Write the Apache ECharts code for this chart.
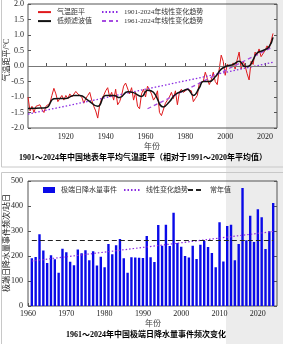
<!DOCTYPE html>
<html><head><meta charset="utf-8">
<script src="https://cdn.jsdelivr.net/npm/echarts@6/dist/echarts.min.js"></script>
<style>html,body{margin:0;padding:0;background:#fff}#c{width:283px;height:344px}</style>
</head><body><div id="c"></div>
<script>
// ---------- Chart 1: temperature anomaly ----------
const tempFirstYear = 1901;
const tempAnomaly = [
 -1.0,-1.45,-1.3,-1.5,-1.3,-1.35,-1.25,-1.4,-1.5,-1.3,
 -1.35,-1.2,-0.95,-0.72,-0.9,-1.15,-1.05,-0.95,-1.1,-0.95,
 -1.05,-0.9,-1.0,-0.95,-0.82,-0.9,-0.85,-1.0,-1.2,-1.05,
 -0.95,-0.85,-1.1,-1.3,-1.45,-1.68,-1.25,-1.05,-0.95,-0.8,
 -0.7,-1.0,-0.85,-1.1,-0.75,-1.25,-1.15,-0.95,-0.65,-0.55,
 -0.6,-0.9,-0.7,-1.1,-0.85,-1.3,-1.38,-0.9,-0.75,-1.0,
 -0.65,-0.62,-0.9,-1.1,-1.0,-0.8,-1.5,-1.6,-1.55,-1.2,
 -1.1,-1.0,-0.85,-1.05,-0.8,-1.25,-0.85,-0.75,-0.85,-0.9,
 -0.75,-0.7,-0.8,-1.15,-1.05,-0.95,-0.55,-0.6,-0.5,-0.2,
 -0.4,-0.6,-0.45,-0.2,-0.5,-0.6,-0.1,0.35,0.15,-0.3,
 0.05,0.1,-0.05,0.1,-0.1,0.2,0.45,-0.1,0.15,0.0,
 -0.25,-0.45,0.15,0.05,0.45,0.35,0.55,0.3,0.3,0.5,
 0.65,0.55,0.8,1.05];
const filterYears  = [1901,1905,1910,1914,1917,1920,1924,1927,1931,1936,1940,1944,1947,1951,1954,1958,1961,1964,1969,1972,1975,1979,1981,1984,1987,1989,1992,1995,1998,2001,2004,2007,2010,2012,2014,2016,2019,2022,2024];
const filterValues = [-1.37,-1.36,-1.35,-1.06,-1.05,-1.05,-0.95,-0.95,-1.1,-1.3,-0.95,-0.95,-1.02,-0.83,-0.86,-0.98,-0.78,-0.85,-1.32,-1.15,-0.92,-0.8,-0.75,-0.95,-0.7,-0.5,-0.5,-0.35,-0.1,0.0,0.05,0.15,-0.02,0.0,0.2,0.42,0.5,0.62,0.92];
const trendLongYears = [1901, 2024];
const trendLongValues = [-1.55, 0.12];
const trendShortYears = [1961, 2024];
const trendShortValues = [-1.38, 0.62];
const tempXLabels = [1920,1940,1960,1980,2000,2020];
const tempXTicks = [1910,1920,1930,1940,1950,1960,1970,1980,1990,2000,2010,2020];

// ---------- Chart 2: extreme precipitation events ----------
const rainFirstYear = 1961;
const rainEvents = [
 191,196,287,222,172,203,187,133,229,215,
 177,163,226,211,223,183,219,162,197,155,
 248,207,243,268,191,133,195,194,193,192,
 280,195,176,324,241,325,240,373,252,237,
 200,194,241,188,245,260,236,212,155,335,
 178,320,325,183,248,472,263,361,256,387,
 355,228,299,412];
const rainTrendYears = [1961, 2024];
const rainTrendValues = [180, 298];
const rainNormalYears = [1961, 2024];
const rainNormalValues = [262, 262];
const rainXLabels = [1960,1970,1980,1990,2000,2010,2020];

const pairs = (xs, ys) => xs.map((x, i) => [x, ys[i]]);
const tempData = tempAnomaly.map((v, i) => [tempFirstYear + i, v]);
const rainData = rainEvents.map((v, i) => [rainFirstYear + i, v]);

const SERIF = '"Liberation Serif","Noto Sans CJK SC",serif';
const lblStyle = {color:'#222', fontSize:8, fontFamily:SERIF};
const legText = {color:'#333', fontSize:7, fontFamily:SERIF, padding:[0,0,0,1]};
const hideSym = {opacity:0};
const purple1 = '#8a2be2', purple2 = '#a64ce0';

const chart = echarts.init(document.getElementById('c'), null, {renderer:'canvas'});
chart.setOption({
  animation:false,
  backgroundColor:'#fff',
  graphic:[
    {type:'rect', z:-100, shape:{x:226, y:0, width:57, height:344}, style:{fill:'#ececec'}},
    {type:'rect', z:-90, shape:{x:1.5, y:-2, width:300, height:169}, style:{fill:'none', stroke:'#c8c8c8', lineWidth:1}},
    {type:'rect', z:-90, shape:{x:1.5, y:172.5, width:300, height:180}, style:{fill:'none', stroke:'#c8c8c8', lineWidth:1}},
    {type:'text', x:7, y:60, rotation:Math.PI/2, style:{text:'气温距平/°C', fill:'#222', font:'8px '+SERIF, align:'center', verticalAlign:'middle'}},
    {type:'text', x:7, y:243, rotation:Math.PI/2, style:{text:'极端日降水量事件频次/站日', fill:'#222', font:'8px '+SERIF, align:'center', verticalAlign:'middle'}},
    {type:'text', x:152, y:147, style:{text:'年份', fill:'#444', font:'8px '+SERIF, align:'center', verticalAlign:'middle'}},
    {type:'text', x:143, y:157.5, style:{text:'1901～2024年中国地表年平均气温距平（相对于1991～2020年平均值）', fill:'#000', font:'bold 8px '+SERIF, align:'center', verticalAlign:'middle'}},
    {type:'text', x:153, y:324, style:{text:'年份', fill:'#444', font:'8px '+SERIF, align:'center', verticalAlign:'middle'}},
    {type:'text', x:146, y:335, style:{text:'1961～2024年中国极端日降水量事件频次变化', fill:'#000', font:'bold 8px '+SERIF, align:'center', verticalAlign:'middle'}}
  ],
  legend:[
    {left:37, top:8.5, padding:0, itemWidth:13, itemHeight:9, itemStyle:hideSym, data:['气温距平'], textStyle:legText},
    {left:37, top:17.5, padding:0, itemWidth:13, itemHeight:9, itemStyle:hideSym, data:['低频滤波值'], textStyle:legText},
    {left:101, top:8.5, padding:0, itemWidth:16, itemHeight:9, itemStyle:hideSym, data:['1901-2024年线性变化趋势'], textStyle:legText},
    {left:101, top:17.5, padding:0, itemWidth:16, itemHeight:9, itemStyle:hideSym, data:['1961-2024年线性变化趋势'], textStyle:legText},
    {left:43, top:186.5, padding:0, itemWidth:12, itemHeight:6, icon:'rect', data:['极端日降水量事件'], textStyle:legText},
    {left:123, top:186.5, padding:0, itemWidth:16, itemHeight:9, itemStyle:hideSym, data:['线性变化趋势'], textStyle:legText},
    {left:187, top:186.5, padding:0, itemWidth:16, itemHeight:9, itemStyle:hideSym, data:['常年值'], textStyle:legText}
  ],
  grid:[
    {left:28, top:4, width:249, height:124, show:true, borderColor:'#555', borderWidth:1, backgroundColor:'transparent'},
    {left:28, top:181, width:249, height:125, show:true, borderColor:'#555', borderWidth:1, backgroundColor:'transparent'}
  ],
  xAxis:[
    {gridIndex:0, type:'value', min:1901, max:2026,
     axisLine:{show:false}, splitLine:{show:false},
     axisTick:{show:true, inside:true, length:3, lineStyle:{color:'#555'}, customValues:tempXTicks},
     axisLabel:{...lblStyle, margin:5, customValues:tempXLabels, formatter:v=>String(v)}},
    {gridIndex:1, type:'value', min:1960, max:2025, interval:10,
     axisLine:{show:false}, splitLine:{show:false},
     axisTick:{show:true, inside:true, length:3, lineStyle:{color:'#555'}, customValues:rainXLabels},
     axisLabel:{...lblStyle, margin:4, customValues:rainXLabels, formatter:v=>String(v)}}
  ],
  yAxis:[
    {gridIndex:0, type:'value', min:-2, max:2, interval:0.5,
     axisLine:{show:false}, splitLine:{show:false},
     axisTick:{show:true, inside:true, length:3, lineStyle:{color:'#555'}},
     axisLabel:{...lblStyle, margin:4, formatter:v=>v.toFixed(1)}},
    {gridIndex:0, type:'value', position:'right', min:-2, max:2, interval:0.5,
     axisLine:{show:false}, splitLine:{show:false},
     axisTick:{show:true, inside:true, length:3, lineStyle:{color:'#555'}},
     axisLabel:{show:false}},
    {gridIndex:1, type:'value', min:0, max:500, interval:100,
     axisLine:{show:false}, splitLine:{show:false},
     axisTick:{show:true, inside:true, length:3, lineStyle:{color:'#555'}},
     axisLabel:{...lblStyle, margin:5}},
    {gridIndex:1, type:'value', position:'right', min:0, max:500, interval:100,
     axisLine:{show:false}, splitLine:{show:false},
     axisTick:{show:true, inside:true, length:3, lineStyle:{color:'#555'}},
     axisLabel:{show:false}}
  ],
  series:[
    {name:'气温距平', type:'line', xAxisIndex:0, yAxisIndex:0, data:tempData, symbol:'none',
     lineStyle:{color:'#e0191c', width:1}, itemStyle:{color:'#e0191c'}, z:3,
     markLine:{silent:true, symbol:'none', label:{show:false}, lineStyle:{color:'#777', width:1, type:'solid'}, data:[{yAxis:0}]}},
    {name:'低频滤波值', type:'line', xAxisIndex:0, yAxisIndex:0, data:pairs(filterYears, filterValues), symbol:'none', smooth:0.5,
     lineStyle:{color:'#111', width:1.5}, itemStyle:{color:'#111'}, z:5},
    {name:'1901-2024年线性变化趋势', type:'line', xAxisIndex:0, yAxisIndex:0, data:pairs(trendLongYears, trendLongValues), symbol:'none',
     lineStyle:{color:purple1, width:1.3, type:[1.5,2]}, itemStyle:{color:purple1}, z:4},
    {name:'1961-2024年线性变化趋势', type:'line', xAxisIndex:0, yAxisIndex:0, data:pairs(trendShortYears, trendShortValues), symbol:'none',
     lineStyle:{color:purple2, width:1.3, type:[4,3]}, itemStyle:{color:purple2}, z:4},
    {name:'极端日降水量事件', type:'bar', xAxisIndex:1, yAxisIndex:2, data:rainData, barWidth:2.4,
     itemStyle:{color:'#0a0ae8'}, z:2},
    {name:'线性变化趋势', type:'line', xAxisIndex:1, yAxisIndex:2, data:pairs(rainTrendYears, rainTrendValues), symbol:'none',
     lineStyle:{color:purple1, width:1.2, type:[1.5,2]}, itemStyle:{color:purple1}, z:4},
    {name:'常年值', type:'line', xAxisIndex:1, yAxisIndex:2, data:pairs(rainNormalYears, rainNormalValues), symbol:'none',
     lineStyle:{color:'#222', width:1.2, type:[5,3]}, itemStyle:{color:'#222'}, z:4}
  ]
});
</script></body></html>
